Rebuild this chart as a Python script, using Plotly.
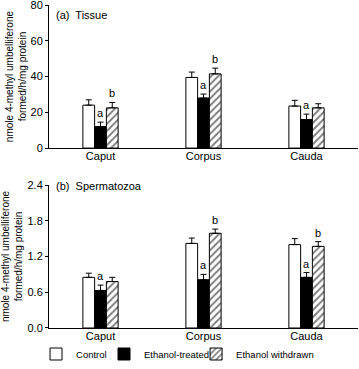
import plotly.graph_objects as go

categories = ["Caput", "Corpus", "Cauda"]
series_names = ["Control", "Ethanol-treated", "Ethanol withdrawn"]

tissue_control = [24.0, 39.5, 23.5]
tissue_control_err = [3.0, 3.0, 3.2]
tissue_ethanol = [12.0, 28.0, 16.0]
tissue_ethanol_err = [2.5, 2.2, 3.0]
tissue_withdrawn = [22.5, 41.5, 22.5]
tissue_withdrawn_err = [3.0, 3.2, 2.3]

sperm_control = [0.85, 1.42, 1.40]
sperm_control_err = [0.07, 0.09, 0.10]
sperm_ethanol = [0.63, 0.81, 0.85]
sperm_ethanol_err = [0.09, 0.09, 0.08]
sperm_withdrawn = [0.78, 1.59, 1.37]
sperm_withdrawn_err = [0.07, 0.07, 0.08]

tissue_ethanol_sig = ["a", "a", "a"]
tissue_withdrawn_sig = ["b", "b", ""]
sperm_ethanol_sig = ["a", "a", "a"]
sperm_withdrawn_sig = ["", "b", "b"]

tissue_ticks = [0, 20, 40, 60, 80]
tissue_ticktext = ["0", "20", "40", "60", "80"]
sperm_ticks = [0.0, 0.6, 1.2, 1.8, 2.4]
sperm_ticktext = ["0.0", "0.6", "1.2", "1.8", "2.4"]

FONT = "Liberation Sans, Arial, sans-serif"
W = 0.114
offsets = [-1.5 * W, -0.5 * W, 0.5 * W]
xpos = list(range(len(categories)))
legend_ids = ["legend", "legend2", "legend3"]

styles = [
    dict(color="white", pattern=dict(shape="")),
    dict(color="black", pattern=dict(shape="")),
    dict(color="white", pattern=dict(shape="/", fgcolor="black", bgcolor="white", size=5, solidity=0.4)),
]

fig = go.Figure()

panels = [
    ("x", "y", [tissue_control, tissue_ethanol, tissue_withdrawn],
     [tissue_control_err, tissue_ethanol_err, tissue_withdrawn_err],
     [None, tissue_ethanol_sig, tissue_withdrawn_sig], True),
    ("x2", "y2", [sperm_control, sperm_ethanol, sperm_withdrawn],
     [sperm_control_err, sperm_ethanol_err, sperm_withdrawn_err],
     [None, sperm_ethanol_sig, sperm_withdrawn_sig], False),
]

for xa, ya, vals, errs, sigs, showleg in panels:
    for k in range(3):
        fig.add_trace(go.Bar(
            x=xpos, y=vals[k], name=series_names[k],
            xaxis=xa, yaxis=ya,
            width=W, offset=offsets[k],
            marker=dict(color=styles[k]["color"], pattern=styles[k]["pattern"],
                        line=dict(color="black", width=1)),
            error_y=dict(type="data", symmetric=False, array=errs[k],
                         arrayminus=[0] * len(errs[k]),
                         color="black", thickness=1, width=3),
            showlegend=showleg, legend=legend_ids[k], legendgroup=series_names[k],
        ))
        if sigs[k] is not None:
            for i, s in enumerate(sigs[k]):
                if s:
                    fig.add_annotation(
                        x=xpos[i] + offsets[k] + W / 2, y=vals[k][i] + errs[k][i],
                        xref=xa, yref=ya, text=s, showarrow=False,
                        yanchor="bottom", yshift=1,
                        font=dict(size=11, color="black", family=FONT))

ytitle = "nmole 4-methyl umbelliferone<br>formed/h/mg protein"
axis_common = dict(showline=True, linecolor="black", linewidth=1, showgrid=False,
                   zeroline=False, ticks="outside", ticklen=3, tickcolor="black",
                   automargin=False, ticklabeloverflow="allow",
                   tickfont=dict(size=11, family=FONT, color="black"))
xaxis_common = dict(showline=True, linecolor="black", linewidth=1, showgrid=False,
                    zeroline=False, ticks="", range=[-0.5, 2.5], automargin=False,
                    tickvals=xpos, ticktext=categories, ticklabelstandoff=-2,
                    tickfont=dict(size=11, family=FONT, color="black"))

leg_common = dict(orientation="h", xanchor="left", y=-0.0805, yanchor="middle",
                  font=dict(size=9.5, family=FONT, color="black"),
                  itemwidth=30, bgcolor="rgba(0,0,0,0)",
                  entrywidthmode="pixels")

fig.update_layout(
    width=359, height=369,
    margin=dict(l=49, r=1, t=5, b=41, autoexpand=False),
    paper_bgcolor="white", plot_bgcolor="white",
    barmode="overlay",
    font=dict(family=FONT, color="black"),
    xaxis=dict(domain=[0, 1], anchor="y", **xaxis_common),
    yaxis=dict(domain=[0.557, 1], anchor="x", range=[0, 80],
               tickvals=tissue_ticks, ticktext=tissue_ticktext,
               title=dict(text=ytitle, font=dict(size=10, family=FONT), standoff=2),
               **axis_common),
    xaxis2=dict(domain=[0, 1], anchor="y2", **xaxis_common),
    yaxis2=dict(domain=[0, 0.4427], anchor="x2", range=[0, 2.4],
                tickvals=sperm_ticks, ticktext=sperm_ticktext,
                title=dict(text=ytitle, font=dict(size=10, family=FONT), standoff=2),
                **axis_common),
    legend=dict(x=-0.042, entrywidth=45, **leg_common),
    legend2=dict(x=0.178, entrywidth=75, **leg_common),
    legend3=dict(x=0.476, entrywidth=90, **leg_common),
)

fig.add_annotation(xref="paper", yref="paper", x=0.015, y=0.97, text="(a)  Tissue",
                   showarrow=False, xanchor="left", yanchor="middle",
                   font=dict(size=11, family=FONT, color="black"))
fig.add_annotation(xref="paper", yref="paper", x=0.015, y=0.44, text="(b)  Spermatozoa",
                   showarrow=False, xanchor="left", yanchor="middle",
                   font=dict(size=11, family=FONT, color="black"))

fig.write_html("out.html", config={"displayModeBar": False},
               post_script="document.body.style.margin='0';document.body.style.padding='0';")
